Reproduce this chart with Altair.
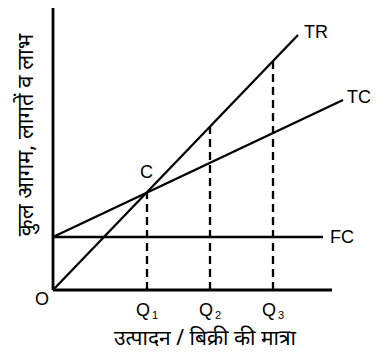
import altair as alt
import pandas as pd

# Break-even chart values (data units ~ pixels from origin)
tr_x = [0, 245]
tr_y = [0, 255]
tc_x = [0, 290]
tc_y = [53, 190]
fc_x = [0, 270]
fc_y = [53, 53]
q_names = ["Q", "Q", "Q"]
q_subs = ["1", "2", "3"]
q_x = [94, 157, 220]
q_top = [97, 163, 229]
curve_labels = ["TR", "TC", "FC", "C"]
curve_label_x = [251, 294, 277, 87]
curve_label_y = [257, 192, 52, 117]
x_title = "उत्पादन / बिक्री की मात्रा"
y_title = "कुल आगम, लागतें व लाभ"

xs = alt.Scale(domain=[0, 318], nice=False, zero=False)
ys = alt.Scale(domain=[0, 282], nice=False, zero=False)

solid = pd.DataFrame({
    "x": [0, 0, tr_x[0], tc_x[0], fc_x[0]],
    "y": [0, 0, tr_y[0], tc_y[0], fc_y[0]],
    "x2": [0, 279, tr_x[1], tc_x[1], fc_x[1]],
    "y2": [285, 0, tr_y[1], tc_y[1], fc_y[1]],
    "w": [2.8, 2.8, 2.3, 2.4, 2.3],
})
dashed = pd.DataFrame({"x": q_x, "y": [0, 0, 0], "y2": q_top})
lab = pd.DataFrame({"t": curve_labels, "x": curve_label_x, "y": curve_label_y})
qlab = pd.DataFrame({"t": q_names, "s": q_subs, "x": q_x, "y": [-21] * 3})

enc = dict(x=alt.X("x:Q", scale=xs, axis=None), y=alt.Y("y:Q", scale=ys, axis=None))

lines = alt.Chart(solid).mark_rule(color="black").encode(
    **enc, x2="x2:Q", y2="y2:Q", strokeWidth=alt.StrokeWidth("w:Q", scale=None)
)
dash = alt.Chart(dashed).mark_rule(color="black", strokeWidth=2.3, strokeDash=[8, 5]).encode(
    **enc, y2="y2:Q"
)
labels = alt.Chart(lab).mark_text(
    font="Liberation Sans", fontSize=18, align="left", baseline="middle", color="black"
).encode(**enc, text="t:N")
qtext = alt.Chart(qlab).mark_text(
    font="Liberation Sans", fontSize=18, align="center", baseline="middle", color="black", dx=-4
).encode(**enc, text="t:N")
qsub = alt.Chart(qlab).mark_text(
    font="Liberation Sans", fontSize=11, align="left", baseline="middle", color="black", dx=5, dy=5
).encode(**enc, text="s:N")
origin = alt.Chart(pd.DataFrame({"t": ["O"], "x": [-11], "y": [-10]})).mark_text(
    font="Liberation Sans", fontSize=18, align="center", baseline="middle", color="black"
).encode(**enc, text="t:N")
xt = alt.Chart(pd.DataFrame({"t": [x_title], "x": [152], "y": [-49]})).mark_text(
    font="Noto Sans", fontSize=21, align="center", baseline="middle", color="black"
).encode(**enc, text="t:N")
yt = alt.Chart(pd.DataFrame({"t": [y_title], "x": [-27], "y": [155]})).mark_text(
    font="Noto Sans", fontSize=22, align="center", baseline="middle", color="black", angle=270
).encode(**enc, text="t:N")

chart = alt.layer(lines, dash, labels, qtext, qsub, origin, xt, yt).properties(
    width=318, height=282,
    autosize=alt.AutoSizeParams(type="none"),
    padding={"left": 45, "top": 0, "right": 0, "bottom": 64},
    background="white",
).configure_view(stroke=None)

chart.save("out.html", embed_options={"renderer": "svg", "actions": False})
